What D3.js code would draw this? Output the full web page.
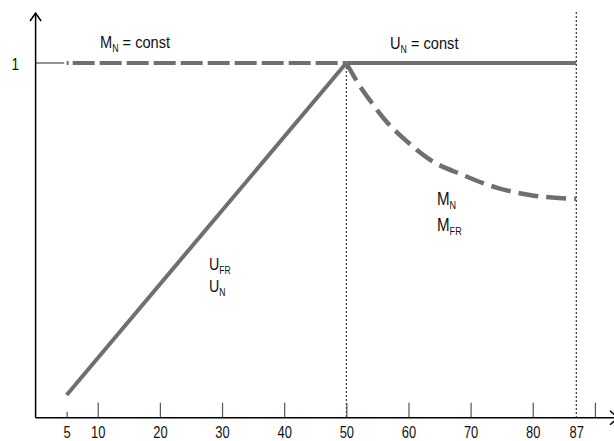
<!DOCTYPE html>
<html><head><meta charset="utf-8">
<script src="https://cdn.jsdelivr.net/npm/d3@7"></script>
<style>
html,body{margin:0;padding:0;background:#fff;}
svg{display:block;}
text{font-family:"Liberation Sans",Arial,sans-serif;fill:#111;}
</style></head>
<body>
<svg id="c" width="614" height="441"></svg>
<script>
// ---- data ----
const xTickValues = [5, 10, 20, 30, 40, 50, 60, 70, 80, 87, 90];
const xTickLabels = ["5", "10", "20", "30", "40", "50", "60", "70", "80", "87", ""];
const yTickValues = [1];
const yTickLabels = ["1"];
const fieldWeakStart = 50;
const fMax = 87;
// U_FR / U_N : linear ramp
const rampF = [5, 50];
const rampV = [0.064, 1];
// U_N = const
const uConstF = [50, 87];
const uConstV = [1, 1];
// M_N = const
const mConstF = [5, 50];
const mConstV = [1, 1];
// M_N / M_FR in field weakening
const mWeakF = [50, 52, 54, 56.2, 60, 63.5, 68.8, 74.3, 79.5, 87];
const mWeakV = [1, 0.94, 0.89, 0.84, 0.775, 0.727, 0.684, 0.648, 0.628, 0.617];

// ---- layout ----
const x0 = 35.6, xEnd = 594.9;
const yBase = 417.7, yOne = 63;
const svg = d3.select("#c");
const x = d3.scaleLinear().domain([0, 90]).range([x0, xEnd]);
const y = d3.scaleLinear().domain([0, 1]).range([yBase, yOne]);

const grey = "#6f6f6f";
const zip = (a, b) => a.map((v, i) => [v, b[i]]);
const line = d3.line().x(d => x(d[0])).y(d => y(d[1]));

// dotted vertical guides
svg.append("line").attr("x1", x(fieldWeakStart)).attr("x2", x(fieldWeakStart))
  .attr("y1", y(1)).attr("y2", yBase)
  .attr("stroke", "#111").attr("stroke-width", 1).attr("stroke-dasharray", "2,2");
svg.append("line").attr("x1", x(fMax)).attr("x2", x(fMax))
  .attr("y1", 12).attr("y2", yBase)
  .attr("stroke", "#111").attr("stroke-width", 1).attr("stroke-dasharray", "2,2");

// x axis ticks (pointing up, labels below)
const xAxis = d3.axisBottom(x).tickValues(xTickValues)
  .tickFormat((d, i) => xTickLabels[i]).tickSizeInner(-15).tickSizeOuter(0).tickPadding(13);
const gx = svg.append("g").attr("transform", `translate(0,${yBase})`).call(xAxis);
gx.select(".domain").remove();
gx.selectAll(".tick line").attr("stroke", "#555").attr("stroke-width", 1.2)
  .attr("y2", d => d === 5 ? -6 : (d === fMax ? 0 : -15));
gx.selectAll(".tick text").attr("font-size", 17).attr("fill", "#111")
  .attr("font-family", '"Liberation Sans",Arial,sans-serif')
  .attr("y", 20).attr("dy", 0).attr("transform", "scale(0.76,1)");

// y label "1" and short grey guide
const yAxis = d3.axisLeft(y).tickValues(yTickValues).tickFormat((d, i) => yTickLabels[i])
  .tickSizeInner(0).tickSizeOuter(0).tickPadding(0);
const gy = svg.append("g").attr("transform", `translate(${x0},0)`).call(yAxis);
gy.select(".domain").remove();
gy.selectAll(".tick text").attr("font-size", 17).attr("fill", "#111")
  .attr("font-family", '"Liberation Sans",Arial,sans-serif')
  .attr("text-anchor", "start").attr("x", 0).attr("dy", "0.36em")
  .attr("transform", "translate(-24,0) scale(0.8,1)");
svg.append("line").attr("x1", x0).attr("x2", x(4.6)).attr("y1", y(1)).attr("y2", y(1))
  .attr("stroke", grey).attr("stroke-width", 1.5);

// curves
svg.append("path").datum(zip(mConstF, mConstV)).attr("d", line)
  .attr("fill", "none").attr("stroke", grey).attr("stroke-width", 4)
  .attr("stroke-dasharray", "2,4,22,5,22,5,22,5,22,5,22,5,22,5,22,5,22,5,22,5,22,5,22,5,22,5,22,5");
svg.append("path").datum(zip(uConstF, uConstV)).attr("d", line)
  .attr("fill", "none").attr("stroke", grey).attr("stroke-width", 4);
svg.append("path").datum(zip(rampF, rampV)).attr("d", line)
  .attr("fill", "none").attr("stroke", grey).attr("stroke-width", 4);
svg.append("path").datum(zip(mWeakF, mWeakV))
  .attr("d", d3.line().x(d => x(d[0])).y(d => y(d[1])).curve(d3.curveMonotoneX))
  .attr("fill", "none").attr("stroke", grey).attr("stroke-width", 4.5)
  .attr("stroke-dasharray", "20,8");

// axes lines with arrows
svg.append("line").attr("x1", x0).attr("x2", x0).attr("y1", yBase).attr("y2", 13)
  .attr("stroke", "#000").attr("stroke-width", 1.5);
svg.append("path").attr("d", `M${x0-5.5},${21} L${x0},${13} L${x0+5.5},${21}`)
  .attr("fill", "none").attr("stroke", "#000").attr("stroke-width", 1.5);
svg.append("line").attr("x1", x0).attr("x2", 620).attr("y1", yBase).attr("y2", yBase)
  .attr("stroke", "#000").attr("stroke-width", 1.5);
svg.append("path").attr("d", `M${610},${yBase-7} L${618},${yBase} L${610},${yBase+7}`)
  .attr("fill", "none").attr("stroke", "#000").attr("stroke-width", 1.5);

// labels with subscripts (condensed by horizontal scaling)
function label(px, py, parts, size, sx) {
  const g = svg.append("g").attr("transform", `translate(${px},${py}) scale(${sx},1)`);
  const t = g.append("text").attr("x", 0).attr("y", 0).attr("font-size", size);
  parts.forEach(p => {
    const s = t.append("tspan").text(p.t);
    if (p.sub) s.attr("font-size", size * 0.6).attr("dy", 4);
    else if (p.back) s.attr("dy", -4);
  });
  return g;
}
label(100, 48, [{t: "M"}, {t: "N", sub: true}, {t: " = const", back: true}], 17, 0.86);
label(390, 49, [{t: "U"}, {t: "N", sub: true}, {t: " = const", back: true}], 17, 0.86);
label(437, 205, [{t: "M"}, {t: "N", sub: true}], 18, 0.84);
label(437, 231, [{t: "M"}, {t: "FR", sub: true}], 18, 0.84);
label(209, 270, [{t: "U"}, {t: "FR", sub: true}], 17, 0.84);
label(209, 292, [{t: "U"}, {t: "N", sub: true}], 17, 0.84);
</script>
</body></html>
